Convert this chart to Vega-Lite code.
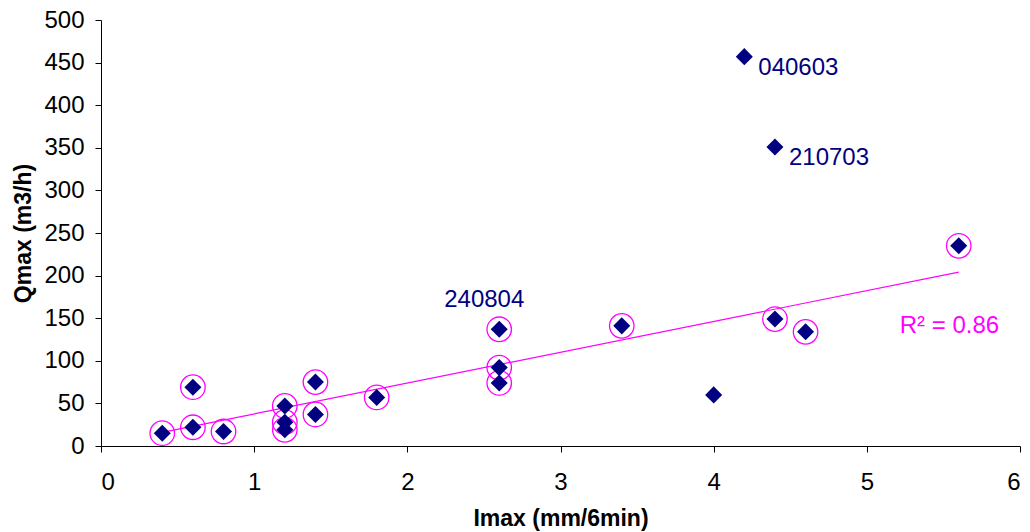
{
  "$schema": "https://vega.github.io/schema/vega-lite/v6.json",
  "width": 919,
  "height": 426,
  "autosize": {"type": "none"},
  "padding": {"left": 101, "top": 20, "right": 10, "bottom": 86},
  "background": "white",
  "config": {
    "view": {"stroke": null},
    "font": "Liberation Sans",
    "axis": {
      "grid": false,
      "domainColor": "black",
      "tickColor": "black",
      "tickSize": 6,
      "labelColor": "black",
      "titleColor": "black",
      "labelFont": "Liberation Sans",
      "titleFont": "Liberation Sans",
      "labelFontSize": 24,
      "titleFontSize": 23,
      "titleFontWeight": "bold",
      "domainWidth": 1,
      "tickWidth": 1
    }
  },
  "datasets": {
    "pts": [
      {"I": 0.4, "Q": 15, "circled": true, "label": ""},
      {"I": 0.6, "Q": 22, "circled": true, "label": ""},
      {"I": 0.6, "Q": 69, "circled": true, "label": ""},
      {"I": 0.8, "Q": 17, "circled": true, "label": ""},
      {"I": 1.2, "Q": 47, "circled": true, "label": ""},
      {"I": 1.2, "Q": 28, "circled": true, "label": ""},
      {"I": 1.2, "Q": 19, "circled": true, "label": ""},
      {"I": 1.4, "Q": 75, "circled": true, "label": ""},
      {"I": 1.4, "Q": 37, "circled": true, "label": ""},
      {"I": 1.8, "Q": 57, "circled": true, "label": ""},
      {"I": 2.6, "Q": 137, "circled": true, "label": "240804"},
      {"I": 2.6, "Q": 92, "circled": true, "label": ""},
      {"I": 2.6, "Q": 74, "circled": true, "label": ""},
      {"I": 3.4, "Q": 141, "circled": true, "label": ""},
      {"I": 4.0, "Q": 60, "circled": false, "label": ""},
      {"I": 4.2, "Q": 457, "circled": false, "label": "040603"},
      {"I": 4.4, "Q": 351, "circled": false, "label": "210703"},
      {"I": 4.4, "Q": 149, "circled": true, "label": ""},
      {"I": 4.6, "Q": 134, "circled": true, "label": ""},
      {"I": 5.6, "Q": 235, "circled": true, "label": ""}
    ],
    "trend": [
      {"I": 0.4, "Q": 16},
      {"I": 5.6, "Q": 204}
    ],
    "r2": [
      {"I": 5.215, "Q": 141, "text": "R² = 0.86"}
    ]
  },
  "layer": [
    {
      "data": {"name": "trend"},
      "mark": {"type": "line", "color": "#FF00FF", "strokeWidth": 1.2},
      "encoding": {
        "x": {"field": "I", "type": "quantitative", "scale": {"domain": [0, 6], "nice": false},
              "axis": {"title": "Imax (mm/6min)", "values": [0, 1, 2, 3, 4, 5, 6], "format": "d", "labelPadding": 18, "titleY": 72, "titleBaseline": "middle"}},
        "y": {"field": "Q", "type": "quantitative", "scale": {"domain": [0, 500], "nice": false},
              "axis": {"title": "Qmax (m3/h)", "values": [0, 50, 100, 150, 200, 250, 300, 350, 400, 450, 500], "format": "d", "labelPadding": 11, "titleX": -78, "titleBaseline": "middle"}}
      }
    },
    {
      "data": {"name": "pts"},
      "transform": [{"filter": "datum.circled"}],
      "mark": {"type": "point", "shape": "circle", "filled": false, "stroke": "#FF00FF", "strokeWidth": 1.3, "size": 600, "opacity": 1},
      "encoding": {
        "x": {"field": "I", "type": "quantitative"},
        "y": {"field": "Q", "type": "quantitative"}
      }
    },
    {
      "data": {"name": "pts"},
      "mark": {"type": "point", "shape": "diamond", "filled": true, "color": "#000080", "size": 290, "opacity": 1},
      "encoding": {
        "x": {"field": "I", "type": "quantitative"},
        "y": {"field": "Q", "type": "quantitative"}
      }
    },
    {
      "data": {"name": "pts"},
      "transform": [{"filter": "datum.label == '040603' || datum.label == '210703'"}],
      "mark": {"type": "text", "align": "left", "baseline": "middle", "dx": 14, "dy": 11, "fontSize": 24, "color": "#000080", "font": "Liberation Sans"},
      "encoding": {
        "x": {"field": "I", "type": "quantitative"},
        "y": {"field": "Q", "type": "quantitative"},
        "text": {"field": "label"}
      }
    },
    {
      "data": {"name": "pts"},
      "transform": [{"filter": "datum.label == '240804'"}],
      "mark": {"type": "text", "align": "center", "baseline": "middle", "dx": -15, "dy": -29, "fontSize": 24, "color": "#000080", "font": "Liberation Sans"},
      "encoding": {
        "x": {"field": "I", "type": "quantitative"},
        "y": {"field": "Q", "type": "quantitative"},
        "text": {"field": "label"}
      }
    },
    {
      "data": {"name": "r2"},
      "mark": {"type": "text", "align": "left", "baseline": "middle", "fontSize": 24, "color": "#FF00FF", "font": "Liberation Sans"},
      "encoding": {
        "x": {"field": "I", "type": "quantitative"},
        "y": {"field": "Q", "type": "quantitative"},
        "text": {"field": "text"}
      }
    }
  ]
}
